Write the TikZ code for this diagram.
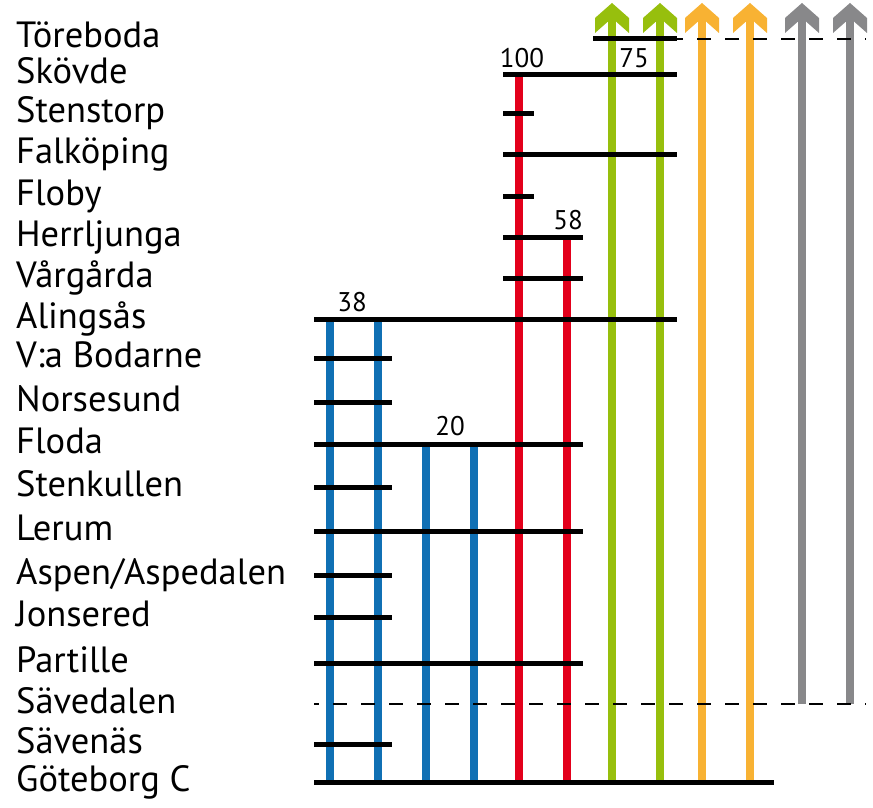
\documentclass[tikz,border=0pt]{standalone}
\usepackage{fontspec}
\setmainfont{PT Sans}
\usetikzlibrary{arrows.meta}
\definecolor{lineblue}{RGB}{16,112,180}
\definecolor{linered}{RGB}{227,0,27}
\definecolor{linegreen}{RGB}{151,191,13}
\definecolor{lineorange}{RGB}{248,178,51}
\definecolor{linegray}{RGB}{136,136,138}
\tikzset{
  stationlab/.style={anchor=base west,inner sep=0pt,
    font=\fontsize{36.5}{42}\selectfont},
  freqlab/.style={anchor=base,inner sep=0pt,
    font=\fontsize{27}{31}\selectfont},
  track/.style={draw=black,line width=5pt},
  dashtrack/.style={draw=black,line width=2.7pt,dash pattern=on 14pt off 14pt},
  service/.style={line width=8.5pt},
  chevron/.pic={
    \fill[pic actions] (0,0) -- (17,15) -- (17,30) -- (0,15)
      -- (-17,30) -- (-17,15) -- cycle;}
}

\begin{document}
\begin{tikzpicture}[x=1pt,y=-1pt]
  \useasboundingbox[fill=white] (0,0) rectangle (873,808);

  % station names
  \foreach \name/\y [count=\i] in {Töreboda/39,Skövde/75,Stenstorp/113,
      Falköping/154,Floby/196,Herrljunga/237,Vårgårda/278,Alingsås/319,
      V:a Bodarne/358,Norsesund/402,Floda/444,Stenkullen/487,Lerum/531,
      {Aspen/Aspedalen}/575,Jonsered/617,Partille/663,Sävedalen/704,
      Sävenäs/744,Göteborg C/782}
    \node[stationlab] (st\i) at (16,\y+9) {\name};

  % services ending at Göteborg C
  \foreach \x/\ytop/\col in {330/319/lineblue,378/319/lineblue,
      426/444/lineblue,474/444/lineblue,519/75/linered,567/237/linered}
    \draw[service,draw=\col] (\x,782) -- (\x,\ytop);

  % services running on past Töreboda
  \foreach \x/\ybot/\col in {612/782/linegreen,660/782/linegreen,
      702/782/lineorange,750/782/lineorange,802/704/linegray,850/704/linegray}
  {
    \draw[service,draw=\col] (\x,\ybot) -- (\x,16);
    \pic[fill=\col] at (\x,3) {chevron};
  }

  % station tracks
  \foreach \y/\xa/\xb in {39/593/677,75/503/677,113/503/534,154/503/677,
      196/503/534,237/503/583,278/503/583,319/314/677,358/314/392,
      402/314/392,444/314/583,487/314/392,531/314/583,575/314/392,
      617/314/392,663/314/583,744/314/392,782/314/774}
    \draw[track] (\xa,\y) -- (\xb,\y);
  \draw[dashtrack,dash phase=8pt] (677,39) -- (866,39);
  \draw[dashtrack,dash phase=9pt] (314,704) -- (866,704);

  % trains per day
  \node[freqlab] (f100) at (522,67) {100};
  \node[freqlab] (f75) at (634,67) {75};
  \node[freqlab] (f58) at (568,229) {58};
  \node[freqlab] (f38) at (352,311) {38};
  \node[freqlab] (f20) at (450,435) {20};
\end{tikzpicture}
\end{document}
